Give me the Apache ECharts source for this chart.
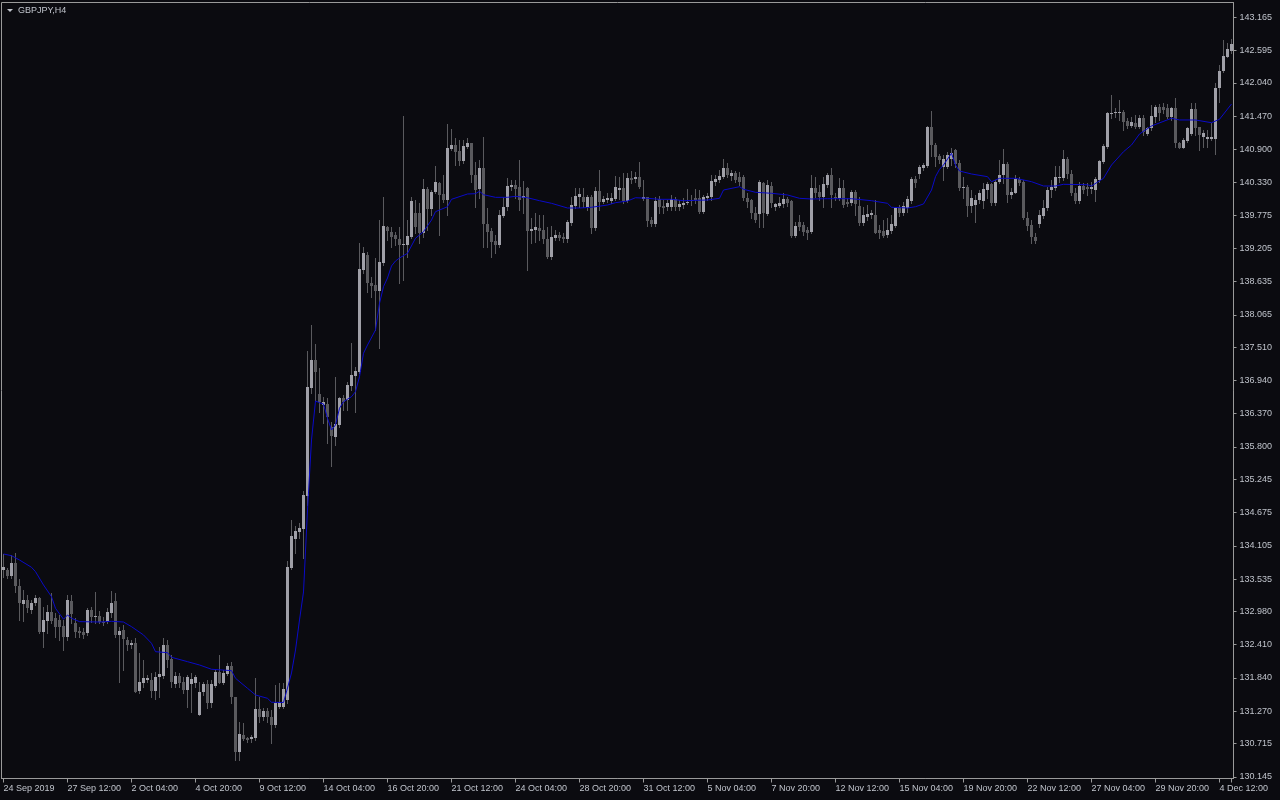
<!DOCTYPE html>
<html>
<head>
<meta charset="utf-8">
<script src="https://cdn.jsdelivr.net/npm/echarts@6/dist/echarts.min.js"></script>
<style>
html,body{margin:0;padding:0;background:#0b0b10;}
#chart{width:1280px;height:800px;}
</style>
</head>
<body>
<div id="chart"></div>
<script>
const title = 'GBPJPY,H4';
const xLabels = ['24 Sep 2019','27 Sep 12:00','2 Oct 04:00','4 Oct 20:00','9 Oct 12:00','14 Oct 04:00','16 Oct 20:00','21 Oct 12:00','24 Oct 04:00','28 Oct 20:00','31 Oct 12:00','5 Nov 04:00','7 Nov 20:00','12 Nov 12:00','15 Nov 04:00','19 Nov 20:00','22 Nov 12:00','27 Nov 04:00','29 Nov 20:00','4 Dec 12:00'];
const yTicks = [130.145,130.715,131.270,131.840,132.410,132.980,133.535,134.105,134.675,135.245,135.800,136.370,136.940,137.510,138.065,138.635,139.205,139.775,140.330,140.900,141.470,142.040,142.595,143.165];

const opens = [
133.690,133.690,133.587,133.815,133.415,133.107,133.175,133.004,133.118,133.215,
132.632,132.815,132.975,132.872,132.832,132.730,132.547,133.164,132.787,132.650,
132.632,132.604,133.004,132.890,132.901,132.793,132.804,132.958,133.158,132.575,
132.661,132.490,132.404,132.432,131.621,131.758,131.804,131.804,131.621,131.850,
131.872,132.404,132.164,131.735,131.872,131.775,131.632,131.735,131.747,131.204,
131.592,131.735,131.404,131.707,131.935,131.758,131.907,132.044,131.518,130.575,
130.861,130.815,130.786,130.815,131.307,131.175,131.272,131.175,131.032,131.347,
131.347,131.461,133.729,134.221,134.341,134.393,134.959,136.815,137.290,136.707,
136.519,136.536,136.146,135.975,136.176,136.639,136.604,136.849,137.016,137.090,
138.833,139.090,138.615,138.576,138.478,138.958,139.575,139.490,139.439,139.359,
139.262,139.256,139.404,139.810,139.810,139.462,140.222,139.879,140.170,140.325,
140.136,140.033,140.908,140.976,140.878,140.702,140.947,141.005,140.462,140.217,
140.577,139.622,139.507,139.335,139.262,139.759,139.908,140.261,140.290,140.251,
140.062,140.244,139.507,139.519,139.553,139.519,139.359,139.061,139.387,139.433,
139.404,139.359,139.644,139.935,140.089,140.089,139.918,140.079,139.558,140.187,
140.004,140.033,140.016,140.050,140.204,140.234,140.016,140.405,140.388,140.422,
140.045,140.079,139.690,139.622,140.045,139.930,139.918,139.908,140.045,139.908,
139.947,139.976,140.016,140.062,140.062,139.833,140.062,140.089,140.347,140.376,
140.432,140.577,140.444,140.491,140.422,140.422,140.073,140.033,139.805,139.793,
140.330,139.793,140.273,139.918,139.930,139.965,140.056,140.021,139.416,139.661,
139.604,139.519,139.489,140.234,140.176,140.089,140.290,140.462,140.089,140.062,
140.234,140.004,139.987,140.165,139.930,139.644,139.736,139.776,139.776,139.519,
139.507,139.433,139.507,139.587,139.918,139.805,139.891,140.021,140.393,140.479,
140.577,140.616,141.289,140.976,140.787,140.594,140.594,140.731,140.890,140.662,
140.234,140.261,139.930,139.947,140.033,140.021,140.204,140.307,139.976,140.347,
140.462,140.650,140.119,140.159,140.388,140.347,139.719,139.604,139.393,139.622,
139.759,139.891,140.204,140.234,140.405,140.405,140.736,140.479,140.159,140.021,
140.273,140.261,140.217,140.204,140.376,140.690,140.947,141.503,141.519,141.519,
141.542,141.393,141.302,141.359,141.290,141.433,141.165,141.262,141.461,141.632,
141.622,141.605,141.451,141.605,141.015,140.919,141.050,141.165,141.588,141.290,
141.108,141.084,141.084,141.074,141.948,142.250,142.490,142.593
];
const closes = [
133.735,133.587,133.815,133.415,133.118,133.175,133.033,133.130,133.215,132.632,
132.832,132.975,132.815,132.718,132.707,132.547,133.175,132.935,132.632,132.604,
132.575,133.004,132.878,132.901,132.804,132.775,132.975,133.130,132.575,132.650,
132.507,132.404,132.432,131.604,131.775,131.832,131.844,131.621,131.861,131.907,
132.404,132.147,131.775,131.872,131.747,131.632,131.850,131.821,131.861,131.604,
131.735,131.404,131.735,131.935,131.758,131.930,132.044,131.507,130.575,130.878,
130.792,130.775,130.832,131.307,131.175,131.272,131.164,131.032,131.415,131.432,
131.644,133.747,134.273,134.358,134.415,134.976,136.832,137.290,137.084,136.575,
136.575,136.318,135.987,136.193,136.639,136.575,136.861,137.033,137.101,138.850,
139.124,138.610,138.564,138.478,138.975,139.587,139.507,139.404,139.359,139.256,
139.279,139.416,140.021,139.575,139.462,140.222,139.884,140.170,140.342,140.119,
140.033,140.925,140.976,140.861,140.702,140.959,141.015,140.462,140.204,140.577,
139.622,139.489,139.318,139.262,139.776,139.918,140.273,140.290,140.217,140.033,
140.107,139.507,139.536,139.565,139.507,139.359,139.061,139.404,139.433,139.376,
139.359,139.661,139.947,140.107,140.136,140.004,140.079,139.558,140.187,140.004,
140.050,140.073,140.062,140.251,140.234,140.016,140.415,140.376,140.432,140.251,
140.089,139.678,139.622,140.021,139.908,139.891,139.976,140.045,139.918,139.965,
139.987,140.004,140.033,140.033,139.833,140.079,140.102,140.359,140.388,140.444,
140.577,140.462,140.491,140.376,140.347,140.062,140.004,139.805,139.690,140.347,
139.805,140.290,139.987,139.959,139.976,140.056,139.987,139.416,139.587,139.575,
139.489,139.472,140.234,140.159,140.089,140.307,140.462,140.119,140.062,140.234,
139.947,139.959,140.165,139.959,139.644,139.776,139.793,139.805,139.472,139.462,
139.416,139.519,139.622,139.891,139.805,139.930,140.050,140.393,140.330,140.604,
140.633,141.289,140.976,140.775,140.719,140.736,140.804,140.844,140.650,140.234,
140.261,139.930,140.062,140.033,140.153,140.222,140.307,139.976,140.347,140.462,
140.650,140.119,140.176,140.388,140.330,139.719,139.587,139.393,139.335,139.776,
139.891,140.204,140.261,140.422,140.432,140.736,140.479,140.159,140.021,140.273,
140.204,140.217,140.251,140.388,140.707,140.959,141.530,141.530,141.547,141.542,
141.376,141.302,141.376,141.290,141.433,141.204,141.262,141.473,141.632,141.519,
141.576,141.451,141.605,141.005,140.919,141.062,141.262,141.588,141.262,141.148,
141.177,141.108,141.108,141.948,142.250,142.502,142.617,142.708
];
const highs = [
133.964,133.718,133.947,133.975,133.530,133.347,133.261,133.175,133.261,133.233,
133.061,133.090,133.290,132.947,132.918,132.832,133.261,133.261,132.861,132.707,
132.690,133.033,133.061,133.318,132.992,132.890,133.033,133.335,133.290,132.718,
132.747,132.547,132.490,132.518,132.261,132.147,131.890,131.918,131.947,132.375,
132.518,132.490,132.232,131.947,131.918,131.861,131.890,131.918,131.890,131.775,
131.775,131.804,131.804,131.975,132.232,131.975,132.101,132.118,131.518,131.089,
131.061,130.832,130.861,131.832,131.518,131.318,131.318,131.290,131.718,131.747,
131.747,133.849,134.547,134.444,134.495,135.044,137.444,137.890,137.564,137.153,
136.661,136.639,136.227,137.004,136.661,136.690,136.918,137.581,137.175,139.296,
139.232,139.147,138.718,139.039,139.690,140.089,139.587,139.575,139.484,139.575,
141.473,139.690,140.079,140.033,139.976,140.393,140.261,140.204,140.616,140.347,
140.462,141.336,141.250,141.091,141.062,141.062,141.091,141.015,140.690,140.719,
141.108,139.891,139.548,139.433,139.861,140.089,140.405,140.376,140.376,140.719,
140.364,140.251,139.719,139.805,139.776,139.776,139.575,139.587,139.519,139.489,
139.467,139.690,140.089,140.234,140.234,140.234,140.119,140.119,140.261,140.547,
140.102,140.148,140.159,140.444,140.432,140.491,140.491,140.535,140.518,140.690,
140.376,140.089,139.741,140.089,140.102,140.033,140.033,140.119,140.089,140.033,
140.067,140.217,140.119,140.217,140.204,140.119,140.153,140.462,140.462,140.547,
140.731,140.672,140.547,140.535,140.518,140.462,140.148,140.045,139.918,140.376,
140.347,140.376,140.347,139.987,140.089,140.148,140.089,140.033,139.661,139.776,
139.661,139.575,140.462,140.432,140.290,140.422,140.491,140.577,140.153,140.405,
140.376,140.067,140.204,140.204,140.089,139.918,139.947,139.861,140.033,139.604,
139.690,139.719,139.776,139.918,139.947,140.004,140.102,140.432,140.444,140.633,
140.668,141.301,141.564,141.005,140.822,140.804,140.861,140.919,140.902,140.719,
140.432,140.290,140.204,140.119,140.204,140.325,140.347,140.319,140.376,140.719,
140.902,140.690,140.239,140.462,140.432,140.376,139.833,139.690,139.473,139.861,
140.033,140.261,140.376,140.616,140.616,140.890,140.775,140.547,140.234,140.347,
140.319,140.330,140.347,140.422,140.719,140.993,141.547,141.833,141.605,141.747,
141.576,141.433,141.461,141.490,141.490,141.490,141.290,141.662,141.662,141.679,
141.701,141.679,141.622,141.777,141.033,141.091,141.290,141.691,141.691,141.290,
141.233,141.233,141.348,142.034,142.348,142.776,142.730,142.788
];
const lows = [
133.564,133.547,133.547,133.318,132.832,132.821,132.975,132.947,133.090,132.604,
132.364,132.604,132.775,132.547,132.490,132.318,132.490,132.775,132.547,132.547,
132.518,132.575,132.804,132.775,132.775,132.747,132.775,132.890,132.547,131.775,
131.975,132.318,132.347,131.592,131.575,131.689,131.775,131.518,131.472,131.518,
131.832,132.032,131.689,131.689,131.689,131.575,131.347,131.261,131.689,131.204,
131.547,131.318,131.347,131.689,131.747,131.735,131.890,131.404,130.432,130.432,
130.775,130.747,130.747,130.775,131.089,131.118,131.089,130.718,131.004,131.318,
131.318,131.410,133.707,133.986,134.238,133.895,134.804,136.724,136.604,136.404,
136.210,135.867,135.473,135.833,136.142,136.433,136.433,136.776,136.404,137.067,
138.782,138.461,138.375,137.804,137.496,138.919,139.347,139.232,139.262,138.610,
138.661,139.061,139.376,139.462,139.291,139.404,139.519,139.776,140.148,139.433,
140.004,139.776,140.890,140.633,140.633,140.662,140.919,140.347,139.918,140.062,
139.232,139.232,139.061,139.119,139.232,139.747,139.861,140.204,140.062,139.861,
139.805,138.833,139.291,139.318,139.347,139.291,139.033,139.016,139.347,139.347,
139.313,139.318,139.604,139.891,139.918,139.918,139.861,139.462,139.519,139.861,
139.976,140.004,139.976,140.033,140.045,139.976,140.004,140.319,140.347,140.234,
140.033,139.587,139.587,139.587,139.805,139.805,139.861,139.861,139.861,139.861,
139.896,139.965,139.947,139.976,139.805,139.805,140.033,140.033,140.290,140.347,
140.405,140.432,140.376,140.347,140.290,140.033,139.918,139.719,139.661,139.575,
139.575,139.776,139.918,139.861,139.918,139.918,139.930,139.404,139.404,139.519,
139.433,139.359,139.462,140.089,140.033,139.918,140.261,139.918,140.033,140.033,
139.918,139.930,139.947,139.776,139.604,139.604,139.690,139.724,139.462,139.376,
139.404,139.404,139.462,139.575,139.759,139.776,139.833,139.976,140.261,140.405,
140.547,140.605,140.787,140.616,140.662,140.376,140.577,140.633,140.605,140.204,
140.062,139.759,139.833,139.661,139.976,139.896,140.062,139.947,139.947,140.319,
140.319,140.004,140.067,140.148,140.290,139.702,139.519,139.301,139.301,139.575,
139.719,139.861,140.089,140.204,140.347,140.376,140.405,140.119,139.976,139.987,
140.148,140.119,140.148,140.021,140.347,140.662,140.919,141.433,141.461,141.405,
141.233,141.262,141.290,141.262,141.262,141.148,141.148,141.233,141.375,141.405,
141.530,141.433,141.405,140.947,140.919,140.919,141.033,141.148,141.148,140.890,
140.947,140.947,141.062,140.822,141.718,142.228,142.480,142.558
];

const maBars = [0,2,4,7,8,10,12,13,15,16,17,19,24,27,30,32,35,37,38,41,42,46,49,52,57,58,61,63,66,67,70,71,72,73,74,75,76,77,78,79,80,81,82,83,84,85,87,88,89,90,91,93,94,95,96,97,98,99,101,103,105,107,108,111,112,116,118,119,120,123,126,128,131,134,137,141,144,147,151,153,156,158,161,164,167,170,176,179,180,184,185,188,192,196,199,202,206,212,217,221,222,226,228,230,232,233,234,235,237,238,239,242,246,247,249,253,257,260,263,265,271,272,275,277,280,282,284,287,292,294,298,302,304,307];
const maValues = [133.964,133.935,133.861,133.736,133.661,133.433,133.232,133.033,132.845,132.918,132.862,132.804,132.798,132.810,132.798,132.718,132.576,132.433,132.289,132.272,132.193,132.118,132.061,131.988,131.964,131.833,131.662,131.547,131.490,131.422,131.418,131.667,131.924,132.318,132.833,133.313,134.718,135.919,136.587,136.558,136.536,136.291,136.090,136.176,136.462,136.575,136.661,136.747,137.004,137.405,137.547,137.804,138.262,138.547,138.696,138.902,138.987,139.039,139.119,139.377,139.490,139.690,139.833,139.918,140.045,140.136,140.141,140.182,140.124,140.079,140.079,140.096,140.072,140.021,139.976,139.896,139.896,139.908,139.947,139.987,140.016,140.072,140.062,140.045,140.045,140.021,140.033,140.062,140.204,140.261,140.217,140.165,140.148,140.119,140.062,140.050,140.055,140.055,140.021,139.976,139.908,139.896,139.918,139.965,140.204,140.433,140.559,140.633,140.834,140.633,140.530,140.479,140.433,140.347,140.405,140.405,140.347,140.273,140.273,140.302,140.295,140.273,140.405,140.633,140.861,140.976,141.165,141.302,141.434,141.405,141.405,141.358,141.417,141.679];

const textColor = '#c0c4cc';
const frameColor = '#9a9a9a';
const fontFamily = '"Liberation Sans", Arial, sans-serif';
const yMin = 130.115, yMax = 143.419;

const categories = opens.map((_, i) => String(i));
const candleData = opens.map((o, i) => [i, o, closes[i], lows[i], highs[i]]);
const maData = maBars.map((b, k) => [b, maValues[k]]);

function renderCandle(params, api) {
  const i = api.value(0);
  const o = api.value(1), c = api.value(2), l = api.value(3), h = api.value(4);
  const po = api.coord([i, o]);
  const pc = api.coord([i, c]);
  const pl = api.coord([i, l]);
  const ph = api.coord([i, h]);
  const xc = Math.floor(po[0]) + 0.5;
  const top = Math.round(Math.min(po[1], pc[1]));
  const bot = Math.round(Math.max(po[1], pc[1]));
  const bull = c >= o;
  return {
    type: 'group',
    children: [
      { type: 'line', shape: { x1: xc, y1: Math.round(ph[1]), x2: xc, y2: Math.round(pl[1]) + 1 },
        style: { stroke: '#5a5a5e', lineWidth: 1 } },
      { type: 'rect', shape: { x: xc - 1.5, y: top, width: 3, height: Math.max(1, bot - top) },
        style: { fill: bull ? '#a0a0a8' : '#5a5a5e' } }
    ]
  };
}

const gridRect = { left: 1.5, top: 2.5, width: 1232, height: 776 };

const chart = echarts.init(document.getElementById('chart'), null, { renderer: 'canvas' });
chart.setOption({
  animation: false,
  backgroundColor: '#0b0b10',
  grid: [
    Object.assign({ show: true, borderColor: frameColor, borderWidth: 1, backgroundColor: 'transparent' }, gridRect),
    Object.assign({ show: false }, gridRect)
  ],
  xAxis: [
    {
      gridIndex: 0, type: 'category', data: categories, boundaryGap: true,
      axisLine: { show: true, lineStyle: { color: frameColor, width: 1 } },
      axisTick: { show: true, interval: 15, alignWithLabel: true, length: 4, lineStyle: { color: frameColor } },
      axisLabel: {
        interval: 15, showMinLabel: true, showMaxLabel: true, hideOverlap: false,
        formatter: (v, idx) => (idx % 16 === 0 && xLabels[idx / 16]) ? xLabels[idx / 16] : '',
        align: 'left', color: textColor, fontFamily: fontFamily, fontSize: 9, margin: 6
      },
      splitLine: { show: false }
    },
    {
      gridIndex: 1, type: 'category', data: categories, show: false
    }
  ],
  yAxis: [
    {
      gridIndex: 0, type: 'value', position: 'right', min: yMin, max: yMax,
      axisLine: { show: false }, axisTick: { show: false }, axisLabel: { show: false }, splitLine: { show: false }
    },
    {
      gridIndex: 1, type: 'value', position: 'right', min: yMin, max: yMax,
      axisLine: { show: true, lineStyle: { color: frameColor, width: 1 } },
      axisTick: { show: true, customValues: yTicks, length: 3, lineStyle: { color: frameColor } },
      axisLabel: { customValues: yTicks, formatter: v => v.toFixed(3), color: textColor, fontFamily: fontFamily, fontSize: 9, margin: 6, hideOverlap: false },
      splitLine: { show: false }
    }
  ],
  graphic: [
    { type: 'polygon', shape: { points: [[7, 9], [13, 9], [10, 12]] }, style: { fill: textColor } },
    { type: 'text', x: 18, y: 10.5, style: { text: title, fill: textColor, fontFamily: fontFamily, fontSize: 9, verticalAlign: 'middle' } }
  ],
  series: [
    { type: 'custom', name: 'GBPJPY', xAxisIndex: 0, yAxisIndex: 0, renderItem: renderCandle, data: candleData, encode: { x: 0, y: [1, 2, 3, 4] }, clip: true, z: 2 },
    { type: 'line', name: 'MA', xAxisIndex: 0, yAxisIndex: 0, data: maData, showSymbol: false, symbol: 'none', connectNulls: true, smooth: false,
      lineStyle: { color: '#0a0ac8', width: 1 }, z: 3, silent: true }
  ]
});
</script>
</body>
</html>
